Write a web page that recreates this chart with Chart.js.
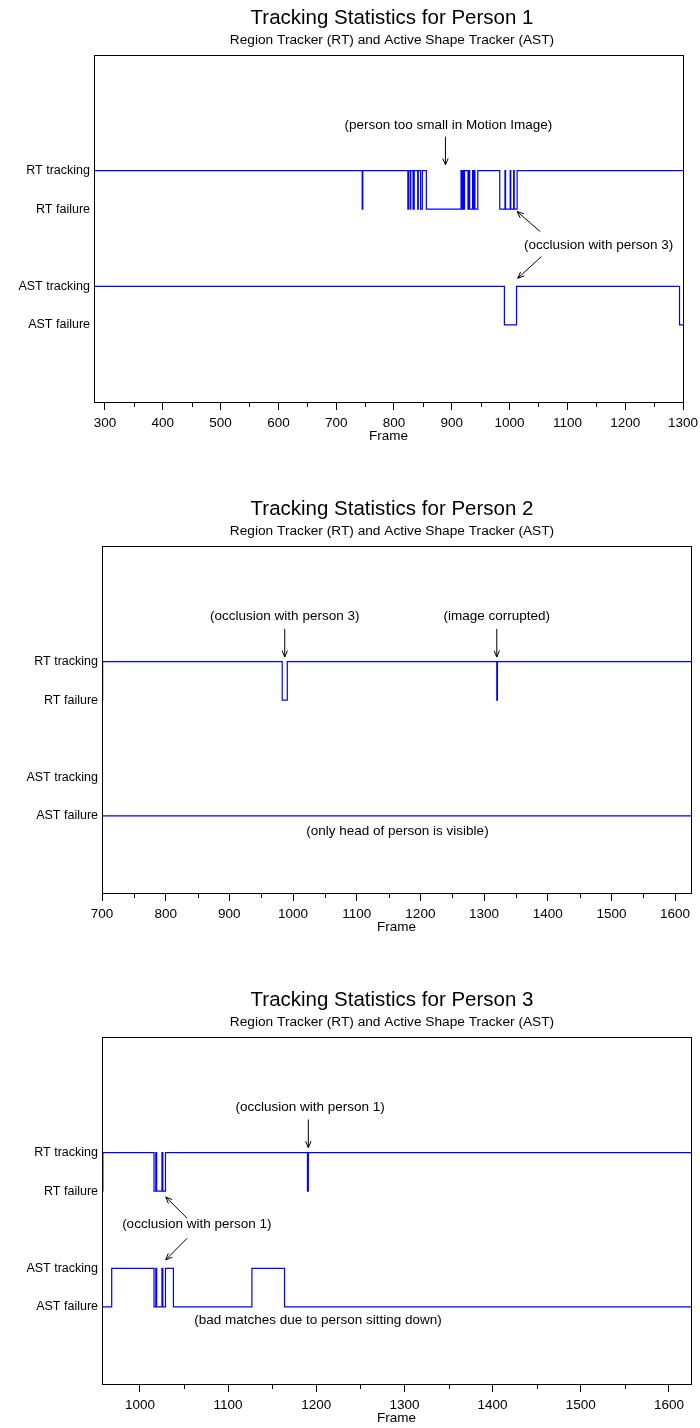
<!DOCTYPE html>
<html>
<head>
<meta charset="utf-8">
<title>Tracking Statistics</title>
<script src="https://cdn.jsdelivr.net/npm/chart.js@4.4.0/dist/chart.umd.min.js"></script>
<style>
  html, body { margin: 0; padding: 0; background: #fff; }
  body { width: 700px; height: 1428px; position: relative; overflow: hidden; }
  .panel { position: absolute; left: 0; width: 700px; height: 446px; }
  #panel1 { top: 0; }
  #panel2 { top: 491px; }
  #panel3 { top: 982px; }
</style>
</head>
<body>
<div class="panel" id="panel1"><canvas id="person1" width="700" height="446"></canvas></div>
<div class="panel" id="panel2"><canvas id="person2" width="700" height="446"></canvas></div>
<div class="panel" id="panel3"><canvas id="person3" width="700" height="446"></canvas></div>
<script>
// y levels for the two trackers (1 = tracking, 0 = failure)
const levelLabels = ['AST failure', 'AST tracking', 'RT failure', 'RT tracking'];
const levelValues = [2, 3, 5, 6];
const rtLevel = s => (s ? 6 : 5);
const astLevel = s => (s ? 3 : 2);

// Person 1
const p1Ticks = [300, 400, 500, 600, 700, 800, 900, 1000, 1100, 1200, 1300];
const p1RtFrames = [281, 745, 746, 824, 825, 828, 829, 833, 835, 841, 842, 846, 849, 856,
  916, 917, 919, 920, 922, 928, 929, 931, 936, 937, 939, 940, 945,
  983, 992, 993, 1001, 1002, 1007, 1008, 1013, 1300];
const p1RtStates = [1, 0, 1, 0, 1, 0, 1, 0, 1, 0, 1, 0, 1, 0,
  1, 0, 1, 0, 1, 0, 1, 0, 1, 0, 1, 0, 1,
  0, 1, 0, 1, 0, 1, 0, 1, 1];
const p1AstFrames = [281, 991, 1012, 1294, 1300];
const p1AstStates = [1, 0, 1, 0, 0];

// Person 2
const p2Ticks = [700, 800, 900, 1000, 1100, 1200, 1300, 1400, 1500, 1600];
const p2RtFrames = [700, 701, 983, 991, 1320, 1321, 1625];
const p2RtStates = [0, 1, 0, 1, 0, 1, 1];
const p2AstFrames = [700, 1625];
const p2AstStates = [0, 0];

// Person 3
const p3Ticks = [1000, 1100, 1200, 1300, 1400, 1500, 1600];
const p3RtFrames = [957, 958, 1016, 1018, 1019, 1025, 1026, 1029, 1190, 1191, 1625];
const p3RtStates = [0, 1, 0, 1, 0, 1, 0, 1, 0, 1, 1];
const p3AstFrames = [957, 968, 1016, 1018, 1019, 1025, 1026, 1029, 1038, 1127, 1164, 1625];
const p3AstStates = [0, 1, 0, 1, 0, 1, 0, 1, 0, 1, 0, 0];

const FONT = "'Liberation Sans', Arial, Helvetica, sans-serif";
const small = { family: FONT, size: 13.5 };
const levelFont = { family: FONT, size: 12.5 };

// title + subtitle, drawn centred over the panel
const heading = {
  id: 'heading',
  afterDraw(chart, args, opts) {
    const ctx = chart.ctx;
    ctx.save();
    ctx.fillStyle = '#000';
    ctx.textAlign = 'center';
    ctx.textBaseline = 'middle';
    ctx.font = '20.5px ' + FONT;
    ctx.fillText(opts.title, opts.cx, 18);
    ctx.font = '13.7px ' + FONT;
    ctx.fillText(opts.subtitle, opts.cx, 40);
    ctx.restore();
  }
};

// box around the plot area and the short ticks at the 50s
const frameBox = {
  id: 'frameBox',
  afterDraw(chart) {
    const { ctx, chartArea: a, scales: { x } } = chart;
    ctx.save();
    ctx.strokeStyle = '#000';
    ctx.lineWidth = 1;
    ctx.strokeRect(Math.round(a.left) + 0.5, Math.round(a.top) + 0.5,
      Math.round(a.right - a.left), Math.round(a.bottom - a.top));
    ctx.beginPath();
    for (let v = Math.ceil(x.min / 50) * 50; v <= x.max; v += 50) {
      if (v % 100 === 0) continue;
      const px = Math.round(x.getPixelForValue(v)) + 0.5;
      ctx.moveTo(px, a.bottom);
      ctx.lineTo(px, a.bottom + 5);
    }
    ctx.stroke();
    ctx.restore();
  }
};

// text notes and arrows, placed in frame / level units
const notes = {
  id: 'notes',
  afterDatasetsDraw(chart, args, opts) {
    const { ctx, scales: { x, y } } = chart;
    ctx.save();
    ctx.fillStyle = '#000';
    ctx.strokeStyle = '#000';
    ctx.lineWidth = 1;
    ctx.font = '13.5px ' + FONT;
    ctx.textAlign = 'center';
    ctx.textBaseline = 'middle';
    (opts.labels || []).forEach(n => {
      ctx.fillText(n.text, x.getPixelForValue(n.frame), y.getPixelForValue(n.level));
    });
    (opts.arrows || []).forEach(a => {
      const x0 = x.getPixelForValue(a.from[0]), y0 = y.getPixelForValue(a.from[1]);
      const x1 = x.getPixelForValue(a.to[0]), y1 = y.getPixelForValue(a.to[1]);
      const ang = Math.atan2(y1 - y0, x1 - x0);
      ctx.beginPath();
      ctx.moveTo(x0, y0);
      ctx.lineTo(x1, y1);
      ctx.moveTo(x1 - 7 * Math.cos(ang - 0.4), y1 - 7 * Math.sin(ang - 0.4));
      ctx.lineTo(x1, y1);
      ctx.lineTo(x1 - 7 * Math.cos(ang + 0.4), y1 - 7 * Math.sin(ang + 0.4));
      ctx.stroke();
    });
    ctx.restore();
  }
};

function series(frames, states, toLevel) {
  return {
    data: frames.map((f, i) => ({ x: f, y: toLevel(states[i]) })),
    borderColor: '#0000ff',
    borderWidth: 1.2,
    stepped: 'before',
    pointRadius: 0,
    fill: false
  };
}

function trackingChart(id, cfg) {
  return new Chart(document.getElementById(id), {
    type: 'line',
    data: {
      datasets: [
        series(cfg.rtFrames, cfg.rtStates, rtLevel),
        series(cfg.astFrames, cfg.astStates, astLevel)
      ]
    },
    options: {
      responsive: false,
      animation: false,
      devicePixelRatio: 1,
      layout: { padding: { top: 55, right: 700 - cfg.right, left: 0, bottom: 0 } },
      scales: {
        x: {
          type: 'linear',
          min: cfg.min,
          max: cfg.max,
          afterBuildTicks: s => { s.ticks = cfg.ticks.map(v => ({ value: v })); },
          // fixed height; end labels may hang past the box
          afterFit: s => { s.height = 44; s.paddingLeft = 0; s.paddingRight = 0; },
          border: { display: false },
          grid: { drawOnChartArea: false, drawTicks: true, tickLength: 8, color: '#000' },
          ticks: { color: '#000', font: small, padding: 5, maxRotation: 0, autoSkip: false,
            callback: v => String(v) },
          title: { display: true, text: 'Frame', color: '#000', font: small, padding: { top: 0, bottom: 2 } }
        },
        y: {
          type: 'linear',
          min: 0,
          max: 9,
          afterBuildTicks: s => { s.ticks = levelValues.map(v => ({ value: v })); },
          afterFit: s => { s.width = cfg.left; },
          border: { display: false },
          grid: { display: false, drawTicks: false },
          ticks: { color: '#000', font: levelFont, padding: 4,
            callback: v => levelLabels[levelValues.indexOf(v)] }
        }
      },
      plugins: {
        legend: { display: false },
        tooltip: { enabled: false },
        heading: { title: cfg.title, subtitle: 'Region Tracker (RT) and Active Shape Tracker (AST)', cx: 392 },
        notes: { labels: cfg.labels, arrows: cfg.arrows }
      }
    },
    plugins: [heading, frameBox, notes]
  });
}

trackingChart('person1', {
  title: 'Tracking Statistics for Person 1',
  min: 281, max: 1300, left: 94, right: 683, ticks: p1Ticks,
  rtFrames: p1RtFrames, rtStates: p1RtStates,
  astFrames: p1AstFrames, astStates: p1AstStates,
  labels: [
    { text: '(person too small in Motion Image)', frame: 894, level: 7.19 },
    { text: '(occlusion with person 3)', frame: 1154, level: 4.07 }
  ],
  arrows: [
    { from: [889, 6.88], to: [889, 6.15] },
    { from: [1053, 4.42], to: [1013, 4.94] },
    { from: [1055, 3.77], to: [1014, 3.21] }
  ]
});

trackingChart('person2', {
  title: 'Tracking Statistics for Person 2',
  min: 700, max: 1625, left: 102, right: 691, ticks: p2Ticks,
  rtFrames: p2RtFrames, rtStates: p2RtStates,
  astFrames: p2AstFrames, astStates: p2AstStates,
  labels: [
    { text: '(occlusion with person 3)', frame: 987, level: 7.17 },
    { text: '(image corrupted)', frame: 1320, level: 7.17 },
    { text: '(only head of person is visible)', frame: 1164, level: 1.61 }
  ],
  arrows: [
    { from: [987, 6.85], to: [987, 6.12] },
    { from: [1320, 6.85], to: [1320, 6.12] }
  ]
});

trackingChart('person3', {
  title: 'Tracking Statistics for Person 3',
  min: 957, max: 1625, left: 102, right: 691, ticks: p3Ticks,
  rtFrames: p3RtFrames, rtStates: p3RtStates,
  astFrames: p3AstFrames, astStates: p3AstStates,
  labels: [
    { text: '(occlusion with person 1)', frame: 1193, level: 7.17 },
    { text: '(occlusion with person 1)', frame: 1064.5, level: 4.13 },
    { text: '(bad matches due to person sitting down)', frame: 1202, level: 1.66 }
  ],
  arrows: [
    { from: [1191, 6.86], to: [1191, 6.13] },
    { from: [1053.5, 4.30], to: [1029.3, 4.85] },
    { from: [1053.5, 3.78], to: [1029.3, 3.22] }
  ]
});
</script>
</body>
</html>
